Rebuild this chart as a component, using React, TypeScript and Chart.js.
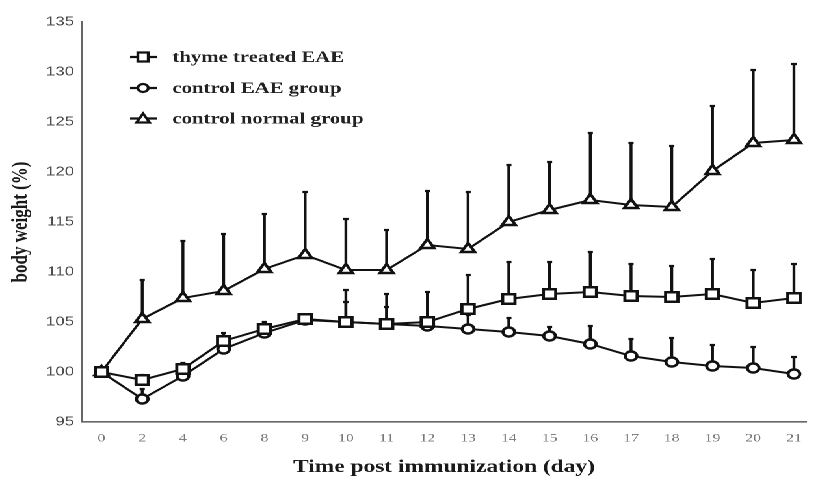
import React, { useEffect, useRef } from "react";
import { Chart, registerables } from "chart.js";

Chart.register(...registerables);

const days = ["0", "2", "4", "6", "8", "9", "10", "11", "12", "13", "14", "15", "16", "17", "18", "19", "20", "21"];

const thyme = [100, 99.2, 100.3, 103.1, 104.3, 105.3, 105.0, 104.8, 105.0, 106.3, 107.3, 107.8, 108.0, 107.6, 107.5, 107.8, 106.9, 107.4];
const thymeErr = [0, 0.5, 0.6, 0.8, 0.7, 0.4, 3.2, 3.0, 3.0, 3.4, 3.7, 3.2, 4.0, 3.2, 3.1, 3.5, 3.3, 3.4];

const controlEAE = [100, 97.3, 99.6, 102.3, 103.9, 105.2, 105.0, 104.8, 104.6, 104.3, 104.0, 103.6, 102.8, 101.6, 101.0, 100.6, 100.4, 99.8];
const controlEAEErr = [0, 1.0, 0.4, 0.4, 0.4, 0.3, 2.0, 1.7, 0.8, 1.4, 1.4, 0.9, 1.8, 1.7, 2.4, 2.1, 2.1, 1.7];

const normal = [100, 105.3, 107.4, 108.1, 110.3, 111.7, 110.2, 110.2, 112.7, 112.3, 115.0, 116.2, 117.2, 116.7, 116.5, 120.1, 122.9, 123.2];
const normalErr = [0, 3.9, 5.7, 5.7, 5.5, 6.3, 5.1, 4.0, 5.4, 5.7, 5.7, 4.8, 6.7, 6.2, 6.1, 6.5, 7.3, 7.6];

const seriesNames = ["thyme treated EAE", "control EAE group", "control normal group"];
const seriesStyles = ["rect", "circle", "triangle"];
const yTicks = [95, 100, 105, 110, 115, 120, 125, 130, 135];

const errors = [thymeErr, controlEAEErr, normalErr];

// the reference picture is stretched horizontally; draw narrower and stretch
const STRETCH = 1.3005;
const INNER_W = 629;
const H = 482;

const errorBarPlugin = {
  id: "errorBars",
  beforeDatasetsDraw(chart: any) {
    const ctx = chart.ctx;
    const x = chart.scales.x;
    const y = chart.scales.y;
    ctx.save();
    ctx.strokeStyle = "#111";
    ctx.lineWidth = 2.2;
    chart.data.datasets.forEach((ds: any, di: number) => {
      ds.data.forEach((pt: any, i: number) => {
        const e = errors[di][i];
        if (!e) return;
        const px = x.getPixelForValue(pt.x);
        const y0 = y.getPixelForValue(pt.y);
        const y1 = y.getPixelForValue(pt.y + e);
        ctx.beginPath();
        ctx.moveTo(px, y0);
        ctx.lineTo(px, y1);
        ctx.moveTo(px - 2, y1);
        ctx.lineTo(px + 2, y1);
        ctx.stroke();
      });
    });
    ctx.restore();
  },
};

const legendPlugin = {
  id: "customLegend",
  afterDraw(chart: any) {
    const ctx = chart.ctx;
    const rows = [57, 88, 118.5];
    ctx.save();
    seriesNames.forEach((name, i) => {
      const cy = rows[i];
      ctx.strokeStyle = "#111";
      ctx.lineWidth = 2.2;
      ctx.beginPath();
      ctx.moveTo(100, cy);
      ctx.lineTo(120.5, cy);
      ctx.stroke();
      ctx.fillStyle = "#fff";
      const mx = 110;
      ctx.beginPath();
      if (seriesStyles[i] === "rect") {
        ctx.rect(mx - 4, cy - 4.5, 8, 9);
      } else if (seriesStyles[i] === "circle") {
        ctx.arc(mx, cy, 4, 0, Math.PI * 2);
      } else {
        ctx.moveTo(mx, cy - 5);
        ctx.lineTo(mx + 5, cy + 4);
        ctx.lineTo(mx - 5, cy + 4);
        ctx.closePath();
      }
      ctx.fill();
      ctx.stroke();
      ctx.fillStyle = "#222";
      ctx.font = "bold 16px 'Liberation Serif', serif";
      ctx.textBaseline = "middle";
      ctx.textAlign = "left";
      ctx.fillText(name, 132.5, cy + 1);
    });
    ctx.restore();
  },
};

export default function App() {
  const ref = useRef<HTMLCanvasElement>(null);
  useEffect(() => {
    if (!ref.current) return;
    const values = [thyme, controlEAE, normal];
    const radii = [6.7, 4.5, 6];
    const chart = new Chart(ref.current, {
      type: "line",
      data: {
        datasets: values.map((vals, di) => ({
          label: seriesNames[di],
          data: vals.map((v, i) => ({ x: i, y: v })),
          borderColor: "#111",
          borderWidth: 2,
          pointStyle: seriesStyles[di] as any,
          pointRadius: radii[di],
          pointBorderWidth: 2.4,
          pointBackgroundColor: "#fff",
          pointBorderColor: "#111",
          tension: 0,
        })),
      },
      options: {
        animation: false,
        responsive: false,
        maintainAspectRatio: false,
        devicePixelRatio: 2,
        layout: { padding: { top: 22, right: 0, bottom: 0, left: 0 } },
        plugins: { legend: { display: false }, tooltip: { enabled: false } },
        scales: {
          x: {
            type: "linear",
            min: -0.48,
            max: 17.3,
            afterFit: (s: any) => {
              s.height = 60;
              s.paddingLeft = 0;
              s.paddingRight = 0;
            },
            afterBuildTicks: (s: any) => {
              s.ticks = days.map((_, i) => ({ value: i }));
            },
            grid: { display: false, drawTicks: true, tickLength: 4, tickColor: "#666" },
            border: { display: true, color: "#666", width: 1.6 },
            ticks: {
              callback: (v: any) => days[v] ?? "",
              color: "#777",
              font: { family: "'Liberation Serif', serif", size: 12 },
              padding: 5,
              maxRotation: 0,
              autoSkip: false,
            },
            title: {
              display: true,
              text: "Time post immunization (day)",
              color: "#1a1a1a",
              font: { family: "'Liberation Serif', serif", size: 18, weight: "bold" },
              padding: { top: 0, bottom: 4 },
            },
          },
          y: {
            min: 95,
            max: 135,
            afterFit: (s: any) => {
              s.width = 63;
            },
            afterBuildTicks: (s: any) => {
              s.ticks = yTicks.map((v) => ({ value: v }));
            },
            grid: { display: false, drawTicks: true, tickLength: 4, tickColor: "#666" },
            border: { display: true, color: "#666", width: 1.6 },
            ticks: {
              color: "#4a4a4a",
              font: { family: "'Liberation Sans', sans-serif", size: 13 },
              padding: 2,
            },
            title: {
              display: true,
              text: "body weight (%)",
              color: "#1a1a1a",
              font: { family: "'Liberation Serif', serif", size: 17, weight: "bold" },
              padding: { top: 6, bottom: 0 },
            },
          },
        },
      },
      plugins: [errorBarPlugin, legendPlugin],
    });
    return () => chart.destroy();
  }, []);
  return (
    <div
      style={{
        position: "fixed",
        left: 0,
        top: 0,
        width: INNER_W,
        height: H,
        background: "#fff",
        transform: `scaleX(${STRETCH})`,
        transformOrigin: "0 0",
      }}
    >
      <canvas ref={ref} width={INNER_W} height={H} style={{ width: INNER_W, height: H, display: "block" }} />
    </div>
  );
}
